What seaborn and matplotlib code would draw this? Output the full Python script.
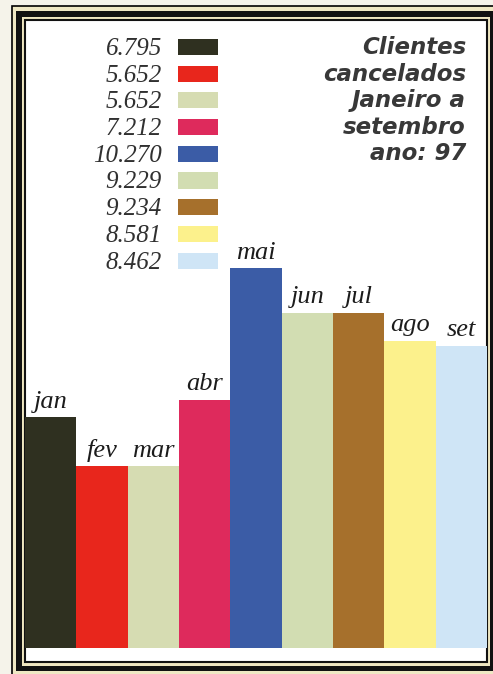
import matplotlib
matplotlib.use("Agg")
import matplotlib.pyplot as plt
from matplotlib.patches import Rectangle
import seaborn as sns

# Data
months = ["jan", "fev", "mar", "abr", "mai", "jun", "jul", "ago", "set"]
clientes = [6795, 5652, 5652, 7212, 10270, 9229, 9234, 8581, 8462]
bar_colors = ["#2f3020", "#e8261c", "#d6dcb2", "#de2a5c", "#3b5ca6",
              "#d2ddb2", "#a6702c", "#fcf18c", "#cfe5f6"]
title_lines = ["Clientes", "cancelados", "Janeiro a", "setembro", "ano: 97"]

W, H = 493, 674
fig = plt.figure(figsize=(W / 100, H / 100), dpi=100)
fig.patch.set_facecolor("#f5f3ea")


def box(x0, y0, x1, y1, **kw):
    # pixel coords from top-left -> figure fraction
    r = Rectangle((x0 / W, 1 - y1 / H), (x1 - x0) / W, (y1 - y0) / H,
                  transform=fig.transFigure, **kw)
    fig.add_artist(r)
    return r


# frame: thin outer line, thick black band, thin inner line
box(12, 6, 505, 690, facecolor="#efe8c4", edgecolor="black", linewidth=1.2, zorder=0)
box(16, 11, 493, 671, facecolor="#111111", edgecolor="none", zorder=0)
box(22, 17, 490, 666, facecolor="#eee6c0", edgecolor="none", zorder=0)
box(25, 20, 487, 662, facecolor="white", edgecolor="#111111", linewidth=1.5, zorder=0)

# bar area
ax_left, ax_right, ax_bottom, ax_top = 25, 487, 648, 100
ax = fig.add_axes([ax_left / W, 1 - ax_bottom / H,
                   (ax_right - ax_left) / W, (ax_bottom - ax_top) / H])
ax.set_zorder(2)
ax.patch.set_alpha(0)

sns.barplot(x=months, y=clientes, hue=months, palette=bar_colors, width=1.0,
            saturation=1, linewidth=0, legend=False, ax=ax)
ax.set_xlim(-0.5, len(months) - 0.5)
ax.set_ylim(1420, 1420 + (ax_bottom - ax_top) / 0.0429)
ax.set_axis_off()

for i, (m, v) in enumerate(zip(months, clientes)):
    ax.annotate(m, (i, v), xytext=(0, 7), textcoords="offset points",
                ha="center", va="baseline", fontsize=19, fontstyle="italic",
                family="Liberation Serif", color="#1c1c1c")

# legend column: values + colour swatches
for i, (v, c) in enumerate(zip(clientes, bar_colors)):
    base = 55 + 26.7 * i
    fig.text(162 / W, 1 - base / H, f"{v:,}".replace(",", "."), ha="right",
             va="baseline", fontsize=18, fontstyle="italic",
             family="Liberation Serif", color="#303030", zorder=3)
    box(178, base - 16, 218, base, facecolor=c, edgecolor="none", zorder=1)

# title block
for i, line in enumerate(title_lines):
    fig.text(466 / W, 1 - (54 + 26.6 * i) / H, line, ha="right", va="baseline",
             fontsize=16.5, fontweight="bold", fontstyle="italic",
             family="DejaVu Sans", color="#383838", zorder=3)

fig.savefig("out.png", dpi=100, facecolor=fig.get_facecolor())
